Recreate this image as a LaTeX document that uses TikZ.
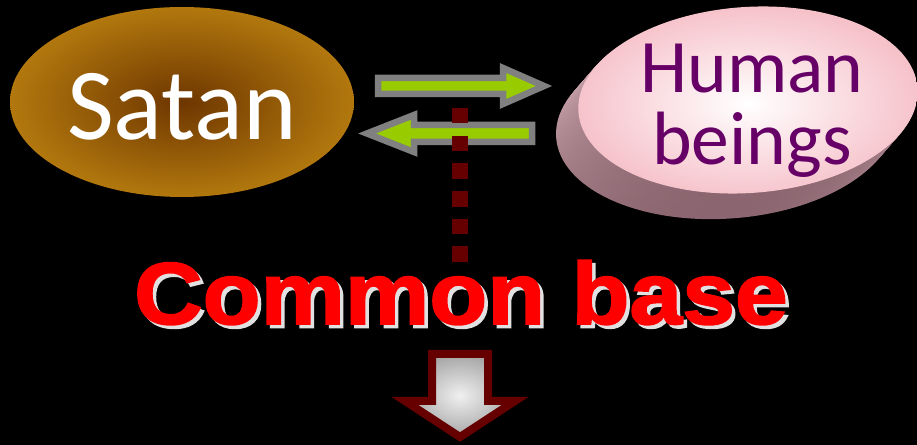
\documentclass[tikz,border=0pt]{standalone}
\usepackage{fontspec}
\usepackage{xcolor}
\usepackage{tikz}
\usetikzlibrary{shapes,positioning,calc}
\newfontfamily\labelfont{Carlito}
\newfontfamily\basefont{Liberation Sans}[BoldFeatures={FakeBold=2},FakeStretch=1.08]
\definecolor{satandark}{RGB}{110,54,0}
\definecolor{satangold}{RGB}{178,120,14}
\definecolor{humanedge}{RGB}{246,194,202}
\definecolor{humanside}{RGB}{136,98,108}
\definecolor{humansidelight}{RGB}{226,188,196}
\definecolor{humantext}{RGB}{102,0,102}
\definecolor{arrowgreen}{RGB}{153,204,0}
\definecolor{arrowgray}{RGB}{128,128,128}
\definecolor{dotred}{RGB}{102,0,0}
\definecolor{shadowgray}{RGB}{225,225,225}
\tikzset{
    blob/.style={ellipse, inner sep=0pt, minimum width=6.88cm, minimum height=3.8cm, shading=radial},
    word/.style={inner sep=0pt},
    flatarrow/.style={draw=arrowgray, fill=arrowgreen, line width=0.13cm},
    dots/.style={draw=dotred, line width=0.32cm, dash pattern=on 0.31cm off 0.244cm},
    droparrow/.style={draw=dotred, line width=0.16cm, inner color=gray!12, outer color=gray!70}
}

\begin{document}
\begin{tikzpicture}[x=0.02cm, y=-0.02cm]
    \fill[black] (0,0) rectangle (917,445);
    \useasboundingbox (0,0) rectangle (917,445);

    % Satan
    \node [blob, inner color=satandark, outer color=satangold, text=white, text height=1.5cm, text depth=0pt, font=\labelfont\fontsize{58}{58}\selectfont] (satan) at (182,102) {Satan};

    % Human beings
    \coordinate (hc) at (748,100);
    \foreach \i in {24,23,...,1}
        \shade [top color=humansidelight, bottom color=humanside, rotate around={4:(hc)}] ($(hc)+(-\i,\i)$) ellipse [x radius=170, y radius=93];
    \shade [inner color=white, outer color=humanedge, rotate around={4:(hc)}] (hc) ellipse [x radius=170, y radius=93];
    \node [word, text=humantext, font=\labelfont\fontsize{43}{41}\selectfont, align=center] (human) at (752,111) {Human\\beings};

    % Arrows between them
    \draw [flatarrow] (378,78) -- (503,78) -- (503,68) -- (544,86) -- (503,104) -- (503,94) -- (378,94) -- cycle;
    \draw [flatarrow] (532,125) -- (414,125) -- (414,115) -- (367,133.5) -- (414,152) -- (414,142) -- (532,142) -- cycle;

    % Common base
    \coordinate (dottop) at (460,108);
    \coordinate (dotend) at (460,262);
    \draw [dots] (dottop) -- (dotend);
    \node [word, anchor=base, text=red, font=\basefont\bfseries\fontsize{50}{50}\selectfont] (base) at (461,324)
        {\rlap{\kern0.07cm\raisebox{-0.07cm}{\textcolor{shadowgray}{Common base}}}Common base};

    % Down arrow
    \shadedraw [droparrow] (432,354) -- (488,354) -- (488,401) -- (515,401) -- (460,437) -- (405,401) -- (432,401) -- cycle;
\end{tikzpicture}
\end{document}
